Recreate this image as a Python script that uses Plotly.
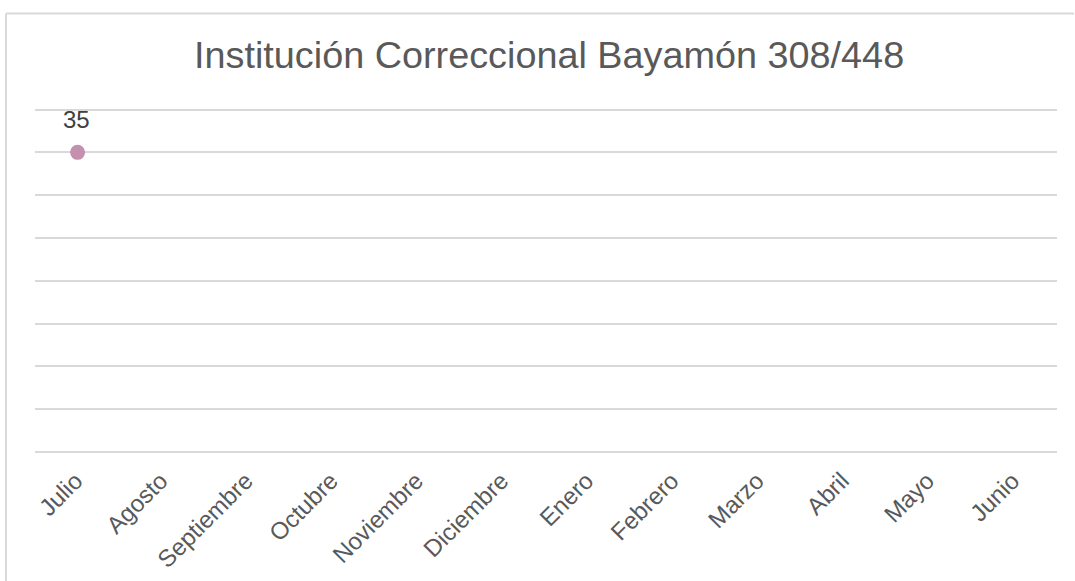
import plotly.graph_objects as go

months = ["Julio", "Agosto", "Septiembre", "Octubre", "Noviembre", "Diciembre",
          "Enero", "Febrero", "Marzo", "Abril", "Mayo", "Junio"]
values = [35, None, None, None, None, None, None, None, None, None, None, None]
title_text = "Institución Correccional Bayamón 308/448"

W, H = 1075, 581
# plot area in pixels (value 0 at Y1, value 40 at Y40)
X0, X1, Y40, Y1 = 35, 1057, 110, 452
YMAX = 41
ph = (Y1 - Y40) * YMAX / 40.0
L, R, B = X0, W - X1, H - Y1
T = Y1 - ph
pw = X1 - X0

def px(x):
    return (x - X0) / pw

def py(y):
    return (Y1 - y) / ph

fig = go.Figure()
fig.add_trace(go.Scatter(
    x=months, y=values,
    mode="lines+markers",
    marker=dict(size=15, color="#C490AE"),
    line=dict(color="#C490AE", width=3),
    cliponaxis=False,
    showlegend=False,
    hoverinfo="skip",
))

annotations = [dict(
    text=str(v), x=m, y=v, xref="x", yref="y", showarrow=False,
    xanchor="center", yanchor="middle", yshift=33, xshift=-1,
    font=dict(size=24, color="#404040", family="Liberation Sans, Arial"),
) for m, v in zip(months, values) if v is not None]

annotations.append(dict(
    text=title_text, xref="paper", yref="paper",
    x=px(549), y=py(56), xanchor="center", yanchor="middle",
    showarrow=False, font=dict(size=37.8, color="#595959", family="Liberation Sans, Arial"),
))

fig.update_layout(
    width=W, height=H,
    margin=dict(l=L, r=R, t=T, b=B, pad=0, autoexpand=False),
    paper_bgcolor="white", plot_bgcolor="white",
    font=dict(family="Liberation Sans, Arial", color="#595959"),
    xaxis=dict(
        type="category", categoryorder="array", categoryarray=months,
        range=[-0.5, 11.5], showgrid=False, showline=False, zeroline=False,
        ticks="", tickangle=-45, tickfont=dict(size=24, color="#595959"),
        ticklabelstandoff=9, ticklabelshift=-2, automargin=False,
    ),
    yaxis=dict(
        range=[0, YMAX], tickvals=[0, 5, 10, 15, 20, 25, 30, 35, 40],
        showgrid=True, gridcolor="#d9d9d9", gridwidth=2,
        showticklabels=False, zeroline=True, zerolinecolor="#d9d9d9", zerolinewidth=2,
        showline=False, ticks="", automargin=False,
    ),
    annotations=annotations,
    shapes=[
        dict(type="line", xref="paper", yref="paper", x0=px(6), x1=px(1074), y0=py(14), y1=py(14),
             line=dict(color="#d9d9d9", width=2)),
        dict(type="line", xref="paper", yref="paper", x0=px(6), x1=px(6), y0=py(14), y1=py(600),
             line=dict(color="#d9d9d9", width=2)),
    ],
)

fig.write_html("out.html", config={"displayModeBar": False},
               post_script="document.body.style.margin='0';document.body.style.overflow='hidden';")
